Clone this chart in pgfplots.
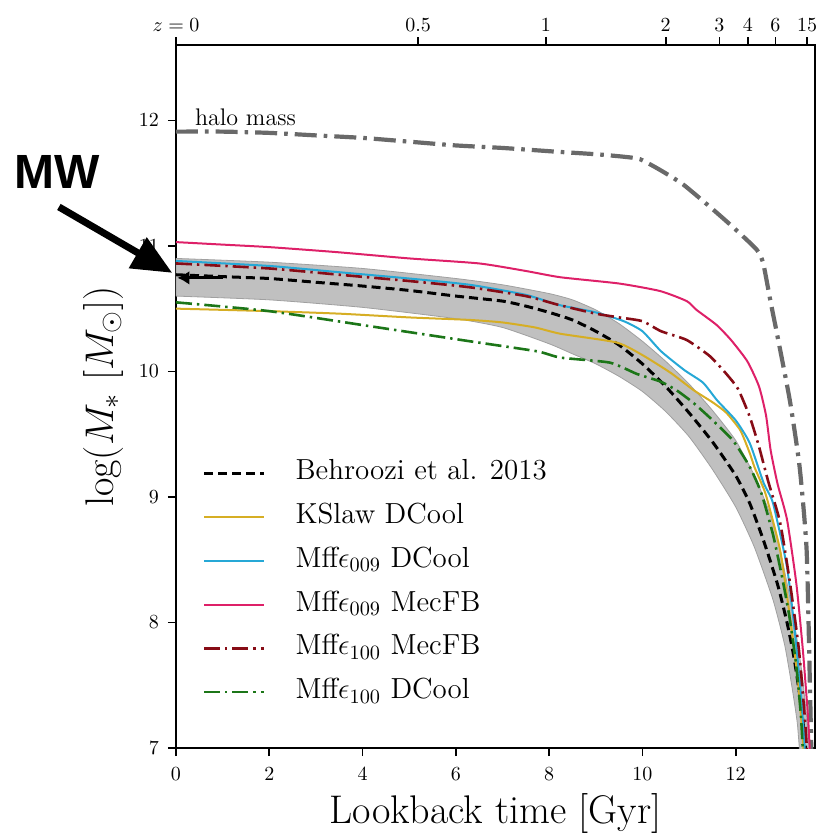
\RequirePackage{fix-cm}
\documentclass[border=0pt]{standalone}
\usepackage{fontspec}
\newfontfamily\mwfont{Liberation Sans}
\usepackage{pgfplots}
\pgfplotsset{compat=1.18}
\usetikzlibrary{arrows.meta}

\definecolor{cBehr}{RGB}{0,0,0}
\definecolor{cKS}{RGB}{214,174,36}
\definecolor{cDC}{RGB}{38,168,214}
\definecolor{cMec}{RGB}{222,32,104}
\definecolor{cMecH}{RGB}{135,12,22}
\definecolor{cDCH}{RGB}{28,118,24}
\definecolor{cHalo}{RGB}{105,105,105}
\definecolor{cBand}{RGB}{192,192,192}
\definecolor{cBandEdge}{RGB}{160,160,160}

\pgfplotsset{
  common/.style={
    at={(0,0)}, anchor=south west,
    scale only axis, width=319.5pt, height=351.5pt,
    xmin=0, xmax=13.7, ymin=7, ymax=12.6,
    tick align=outside,
    major tick length=4pt,
    axis line style={line width=0.9pt},
    every tick/.style={black, line width=0.8pt},
    /pgf/number format/assume math mode=true,
    tick label style={font=\fontsize{10}{12}\selectfont},
  },
  dashdot/.style={dash pattern=on 8pt off 2.5pt on 1.2pt off 2.5pt},
}

\begin{document}
\begin{tikzpicture}
\path[use as bounding box] (-88pt,-44.5pt) rectangle (320.5pt,374pt);

% redshift scale along the top
\begin{axis}[common,
  axis x line*=top, axis y line=none,
  xtick={0,5.19,7.93,10.5,11.65,12.26,12.85,13.53},
  xticklabels={$z=0$,0.5,1,2,3,4,6,15},
  xticklabel style={yshift=-1pt},
]
\end{axis}

\begin{axis}[common,
  clip mode=individual,
  xtick={0,2,...,12}, ytick={7,8,...,12},
  xtick pos=bottom, ytick pos=left,
  xticklabel style={yshift=-2pt},
  yticklabel style={xshift=-1pt},
  xlabel={Lookback time [Gyr]},
  ylabel={$\log(M_*\ [M_\odot])$},
  xlabel style={font=\fontsize{20}{24}\selectfont, at={(axis description cs:0.5,-0.108)}, anchor=base},
  ylabel style={font=\fontsize{20}{24}\selectfont, at={(axis description cs:-0.114,0.5)}, anchor=center},
  legend style={at={(axis description cs:0.041,0.415)}, anchor=north west,
    draw=none, fill=none, inner sep=0pt,
    font=\fontsize{14.5}{17}\selectfont,
    nodes={inner sep=1pt, text height=10.5pt, text depth=4pt},
    row sep=5.4pt,
    /tikz/column 1/.style={column sep=14pt}},
  legend cell align=left,
  legend image code/.code={\draw[#1] (0pt,0pt) -- (30pt,0pt);},
  every axis plot/.append style={smooth, tension=0.35},
]

% Behroozi et al. 2013 uncertainty band
\addplot[fill=cBand, draw=cBandEdge, line width=0.4pt, forget plot] coordinates {
 (0,10.90) (2,10.87) (4,10.82) (6,10.74) (7,10.69) (8,10.62) (8.5,10.57)
 (9,10.49) (9.5,10.38) (10,10.24) (10.5,10.08) (11,9.90) (11.5,9.69)
 (12,9.45) (12.4,9.17) (12.7,8.90) (12.95,8.58) (13.15,8.22) (13.3,7.9)
 (13.42,7.6) (13.52,7.25) (13.58,7.0) (13.62,6.8)
 (13.42,6.8) (13.32,7.2) (13.2,7.5) (13.05,7.82) (12.8,8.18) (12.4,8.6)
 (12,8.92) (11.5,9.22) (11,9.48) (10.5,9.68) (10,9.84) (9.5,9.96)
 (9,10.06) (8.5,10.14) (8,10.22) (7,10.35) (6,10.42) (4,10.51) (2,10.57)
 (0,10.60)
} -- cycle;

% halo mass
\addplot[cHalo, line width=2.1pt, dash pattern=on 11pt off 3.5pt on 1.8pt off 3.5pt, forget plot] coordinates {
 (0,11.91) (1,11.91) (2,11.90) (3,11.88) (4,11.86) (5,11.83) (6,11.80)
 (7,11.78) (8.16,11.75) (9,11.73) (9.6,11.71) (9.95,11.69) (10.4,11.60)
 (10.87,11.49) (11.45,11.31) (11.94,11.15) (12.45,10.97) (12.59,10.86)
 (12.75,10.55) (12.88,10.31) (13.16,9.77) (13.37,9.24) (13.52,8.58)
 (13.59,7.52) (13.62,7.0) (13.63,6.8)
};

\addplot[cBehr, line width=1.5pt, dash pattern=on 4.5pt off 2.5pt] coordinates {
 (0,10.77) (1,10.755) (2,10.74) (3,10.71) (4,10.68) (5,10.645) (6,10.60)
 (7,10.56) (7.5,10.52) (8,10.47) (8.5,10.41) (9,10.32) (9.5,10.21)
 (10,10.06) (10.5,9.88) (11,9.67) (11.5,9.44) (12,9.17) (12.3,8.95)
 (12.6,8.65) (12.9,8.30) (13.1,8.00) (13.25,7.72) (13.4,7.35) (13.5,7.0)
 (13.55,6.8)
};
\addlegendentry{Behroozi et al. 2013}

\addplot[cKS, line width=1pt] coordinates {
 (0,10.50) (2,10.48) (3.5,10.46) (5,10.43) (6.3,10.41) (7.0,10.39)
 (7.7,10.35) (8.24,10.30) (9.45,10.23) (10.0,10.13) (10.6,9.99)
 (11.1,9.85) (11.52,9.75) (11.8,9.67) (12.1,9.53) (12.3,9.35) (12.4,9.24)
 (12.55,9.11) (12.66,9.0) (12.95,8.58) (13.16,8.05) (13.34,7.52)
 (13.45,7.0) (13.48,6.8)
};
\addlegendentry{KSlaw DCool}

\addplot[cDC, line width=1pt] coordinates {
 (0,10.88) (2,10.84) (3.5,10.79) (5,10.74) (6.3,10.69) (7.5,10.61)
 (8.2,10.53) (9.0,10.47) (9.6,10.40) (10.0,10.32) (10.4,10.16)
 (10.9,10.01) (11.3,9.91) (11.6,9.77) (12.0,9.61) (12.3,9.43) (12.6,9.11)
 (12.8,8.95) (13.1,8.44) (13.27,7.92) (13.41,7.38) (13.48,7.0) (13.5,6.8)
};
\addlegendentry{Mff$\epsilon_{009}$ DCool}

\addplot[cMec, line width=1pt] coordinates {
 (0,11.03) (1,11.01) (2,10.99) (3.45,10.95) (5,10.90) (6.5,10.86)
 (7.5,10.80) (8.24,10.75) (9.5,10.70) (10.38,10.64) (10.95,10.56)
 (11.16,10.49) (11.59,10.37) (11.9,10.25) (12.25,10.08) (12.5,9.88)
 (12.65,9.65) (12.75,9.37) (12.9,9.10) (13.1,8.82) (13.3,8.31)
 (13.44,7.78) (13.55,7.25) (13.6,6.9) (13.62,6.8)
};
\addlegendentry{Mff$\epsilon_{009}$ MecFB}

\addplot[cMecH, line width=1.3pt, dashdot] coordinates {
 (0,10.86) (2,10.82) (3.5,10.77) (5,10.72) (6.3,10.67) (7.5,10.60)
 (8.2,10.53) (9,10.46) (9.5,10.43) (10,10.40) (10.4,10.32) (10.95,10.25)
 (11.45,10.12) (11.8,9.98) (12.05,9.86) (12.3,9.64) (12.5,9.40)
 (12.7,9.12) (12.95,8.80) (13.15,8.35) (13.35,7.80) (13.48,7.25)
 (13.56,6.8)
};
\addlegendentry{Mff$\epsilon_{100}$ MecFB}

\addplot[cDCH, line width=1.3pt, dashdot] coordinates {
 (0,10.55) (2,10.48) (4.16,10.36) (6.3,10.24) (7.74,10.16) (8.24,10.11)
 (9.3,10.07) (9.88,9.98) (10.38,9.92) (10.73,9.85) (11.09,9.75)
 (11.45,9.63) (11.94,9.45) (12.3,9.24) (12.55,9.03) (12.8,8.70)
 (13.0,8.35) (13.15,8.05) (13.3,7.65) (13.4,7.25) (13.45,6.9) (13.47,6.8)
};
\addlegendentry{Mff$\epsilon_{100}$ DCool}

% labels and annotations
\node[anchor=base west, font=\fontsize{12}{14}\selectfont, inner sep=0pt]
  at (axis cs:0.40,11.96) {halo mass};
\draw[line width=1.5pt, -{Latex[length=6pt,width=7pt]}]
  (axis cs:1.0,10.745) -- (axis cs:0.03,10.745);
\node[font=\mwfont\bfseries\fontsize{24}{28}\selectfont, inner sep=0pt]
  at (axis cs:-2.55,11.59) {MW};
\draw[line width=3.5pt, -{Triangle[length=20pt,width=17pt]}]
  (axis cs:-2.51,11.31) -- (axis cs:-0.08,10.785);
\end{axis}
\end{tikzpicture}
\end{document}
